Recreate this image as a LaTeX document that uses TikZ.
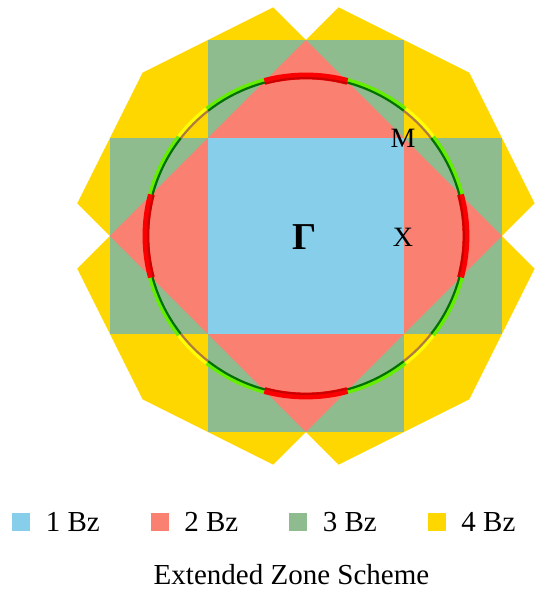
\documentclass[tikz,border=0pt]{standalone}
\usepackage{fontspec}
\setmainfont{Liberation Serif}
\usetikzlibrary{positioning}
\usepackage{xcolor}
\definecolor{bzblue}{RGB}{135, 206, 235}
\definecolor{bzred}{RGB}{250, 128, 114}
\definecolor{bzgreen}{RGB}{143, 188, 143}
\definecolor{bzgold}{RGB}{255, 215, 0}
\definecolor{fsred}{RGB}{250, 0, 0}
\definecolor{fsredin}{RGB}{200, 0, 0}
\definecolor{fsgreen}{RGB}{102, 238, 0}
\definecolor{fsgreenin}{RGB}{0, 112, 0}
\definecolor{fsyellow}{RGB}{255, 255, 0}
\definecolor{fsyellowin}{RGB}{176, 122, 62}
\tikzset{
  redout/.style={draw=fsred, line width=3.4pt},
  redin/.style={draw=fsredin, line width=1pt},
  grnout/.style={draw=fsgreen, line width=1.8pt},
  grnin/.style={draw=fsgreenin, line width=1.1pt},
  ylwout/.style={draw=fsyellow, line width=1.8pt},
  ylwin/.style={draw=fsyellowin, line width=1.1pt},
  ptlabel/.style={inner sep=0pt, font=\fontsize{14}{16}\selectfont},
  gamlabel/.style={inner sep=0pt, font=\fontsize{19}{22}\selectfont\bfseries},
  legbox/.style={rectangle, minimum size=9pt, inner sep=0pt},
  legtext/.style={inner sep=0pt, font=\fontsize{14.5}{17}\selectfont},
  titletext/.style={inner sep=0pt, font=\fontsize{14.5}{17}\selectfont},
}

\begin{document}
\begin{tikzpicture}[x=49pt, y=49pt, node distance=25pt]
        \useasboundingbox (-3.122,-3.694) rectangle (2.490,2.408);
        % 4th zone
        \fill[bzgold] (-1/3,7/3) -- (0,2) -- (1/3,7/3) -- (5/3,5/3)
          -- (7/3,1/3) -- (2,0) -- (7/3,-1/3) -- (5/3,-5/3)
          -- (1/3,-7/3) -- (0,-2) -- (-1/3,-7/3) -- (-5/3,-5/3)
          -- (-7/3,-1/3) -- (-2,0) -- (-7/3,1/3) -- (-5/3,5/3) -- cycle;
        % 3rd, 2nd and 1st zones
        \fill[bzgreen] (-1,-2) rectangle (1,2);
        \fill[bzgreen] (-2,-1) rectangle (2,1);
        \fill[bzred] (2,0) -- (0,2) -- (-2,0) -- (0,-2) -- cycle;
        \fill[bzblue] (-1,-1) rectangle (1,1);
        % Fermi circle, bright band outside, dark band inside
        \def\rf{1.633}
        \def\ro{1.648}
        \def\ri{1.621}
        \def\rr{1.611}
        \foreach \k in {0,90,180,270} {
          \foreach \st/\r in {grnout/\ro, grnin/\ri} {
            \draw[\st] (\k+15:\r) arc[start angle=\k+15, end angle=\k+38.5, radius=\r];
            \draw[\st] (\k+51.5:\r) arc[start angle=\k+51.5, end angle=\k+75, radius=\r];
          }
          \foreach \st/\r in {ylwout/\ro, ylwin/\ri}
            \draw[\st] (\k+38:\r) arc[start angle=\k+38, end angle=\k+52, radius=\r];
          \foreach \st/\r in {redout/\rf, redin/\rr}
            \draw[\st] (\k-15:\r) arc[start angle=\k-15, end angle=\k+15, radius=\r];
        }
        \node[gamlabel] (gam) at (-0.01,-0.01) {Γ};
        \node[ptlabel] (ptM) at (0.99,1.0) {M};
        \node[ptlabel] (ptX) at (0.99,-0.01) {X};
        % legend
        \node[legbox, fill=bzblue] (lg1) at (-2.908,-2.918) {};
        \node[legtext, right=7.5pt of lg1] (lt1) {1 Bz};
        \node[legbox, fill=bzred, right=of lt1] (lg2) {};
        \node[legtext, right=7.5pt of lg2] (lt2) {2 Bz};
        \node[legbox, fill=bzgreen, right=of lt2] (lg3) {};
        \node[legtext, right=7.5pt of lg3] (lt3) {3 Bz};
        \node[legbox, fill=bzgold, right=of lt3] (lg4) {};
        \node[legtext, right=7.5pt of lg4] (lt4) {4 Bz};
        \node[titletext, anchor=base] (ttl) at (-0.148,-3.561) {Extended Zone Scheme};
      \end{tikzpicture}
\end{document}
